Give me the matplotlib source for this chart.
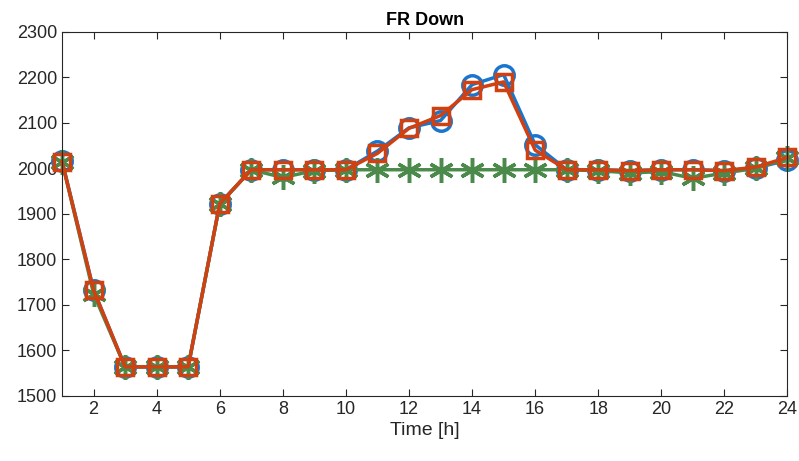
import matplotlib
matplotlib.use("Agg")
import matplotlib.pyplot as plt

plt.rcParams['font.family'] = ['Liberation Sans', 'DejaVu Sans']

hours = list(range(1, 25))
# three cases
blue_circle = [2017, 1733, 1564, 1564, 1564, 1922, 1997, 1997, 1997, 1997,
               2038, 2089, 2105, 2184, 2206, 2052, 1997, 1997, 1995, 1997,
               1997, 1995, 2001, 2018]
green_star = [2015, 1725, 1564, 1564, 1564, 1922, 1997, 1980, 1995, 1997,
              1997, 1997, 1997, 1997, 1997, 1997, 1997, 1995, 1990, 1993,
              1978, 1990, 2000, 2022]
red_square = [2015, 1733, 1564, 1564, 1564, 1922, 1997, 1997, 1997, 1997,
              2033, 2088, 2116, 2173, 2190, 2040, 1997, 1997, 1995, 1997,
              1997, 1995, 2003, 2024]

yticks = list(range(1500, 2301, 100))
xticks = list(range(2, 25, 2))

fig = plt.figure(figsize=(7.99, 4.61), dpi=100)
ax = fig.add_axes([0.0776, 0.141, 0.908, 0.79])

ax.plot(hours, blue_circle, color='#1A76CC', lw=2.5, marker='o', ms=14,
        mfc='none', mew=2.5, clip_on=False)
ax.plot(hours, green_star, color='#4C8A4C', lw=2.5, marker=(6, 2, 0), ms=18,
        mew=2.5, clip_on=False)
ax.plot(hours, red_square, color='#D04010', lw=2.5, marker='s', ms=11,
        mfc='none', mew=2.5, clip_on=False)

ax.set_xlim(1, 24)
ax.set_ylim(1500, 2300)
ax.set_xticks(xticks)
ax.set_yticks(yticks)
ax.tick_params(direction='in', length=5, width=0.8, labelsize=13,
               top=True, right=True, colors='#262626')
for s in ax.spines.values():
    s.set_color('#262626')
    s.set_linewidth(0.8)

ax.set_title('FR Down', fontsize=13, fontweight='bold', pad=5)
ax.set_xlabel('Time [h]', fontsize=14, color='#262626', labelpad=3)

fig.savefig('out.png', dpi=100)
